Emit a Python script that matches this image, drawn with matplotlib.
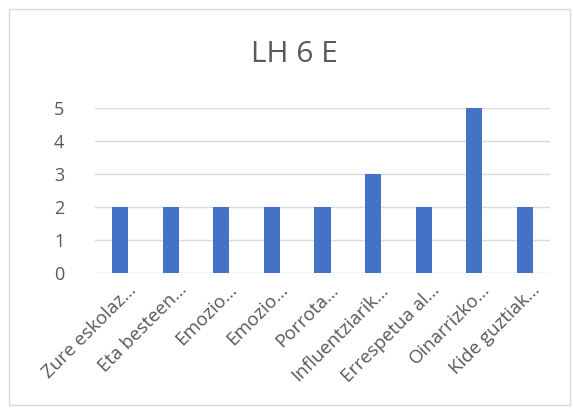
import matplotlib
matplotlib.use("Agg")
import matplotlib.pyplot as plt
from matplotlib.patches import Rectangle
from matplotlib.transforms import ScaledTranslation

categories = ["Zure eskolaz…", "Eta besteen…", "Emozio…", "Emozio…", "Porrota…",
              "Influentziarik…", "Errespetua al…", "Oinarrizko…", "Kide guztiak…"]
values = [2, 2, 2, 2, 2, 3, 2, 5, 2]
yticks = [0, 1, 2, 3, 4, 5]

plt.rcParams['font.family'] = ['Open Sans', 'DejaVu Sans']
text_color = "#595959"

fig = plt.figure(figsize=(5.73, 4.12), dpi=100)
fig.patch.set_facecolor("white")

# chart frame
fig.patches.append(Rectangle((9 / 573, 1 - 405 / 412), 561 / 573, 396 / 412,
                             transform=fig.transFigure, fill=False,
                             edgecolor="#d9d9d9", linewidth=1.0))

ax = fig.add_axes([95 / 573, 1 - 273 / 412, 455 / 573, 165 / 412])
x = list(range(len(categories)))
ax.bar(x, values, width=0.32, color="#4472C4", zorder=3)
ax.set_xlim(-0.5, len(categories) - 0.5)
ax.set_ylim(0, 5)
ax.set_yticks(yticks)
ax.yaxis.grid(True, color="#d9d9d9", linewidth=1.0, zorder=0)
for s in ax.spines.values():
    s.set_visible(False)
ax.tick_params(axis="both", length=0, colors=text_color, labelsize=13)
ax.tick_params(axis="y", pad=22)
ax.set_xticks(x)
ax.set_xticklabels(categories, rotation=45, ha="right", va="center",
                   rotation_mode="anchor", fontsize=13.5, color=text_color)
ax.tick_params(axis="x", pad=0)
shift = ScaledTranslation(13 / 100, -14 / 100, fig.dpi_scale_trans)
for lbl in ax.get_xticklabels():
    lbl.set_transform(lbl.get_transform() + shift)

fig.text(294 / 573, 1 - 54 / 412, "LH 6 E", ha="center", va="center",
         fontsize=21.5, color=text_color)

fig.savefig("out.png", dpi=100)
